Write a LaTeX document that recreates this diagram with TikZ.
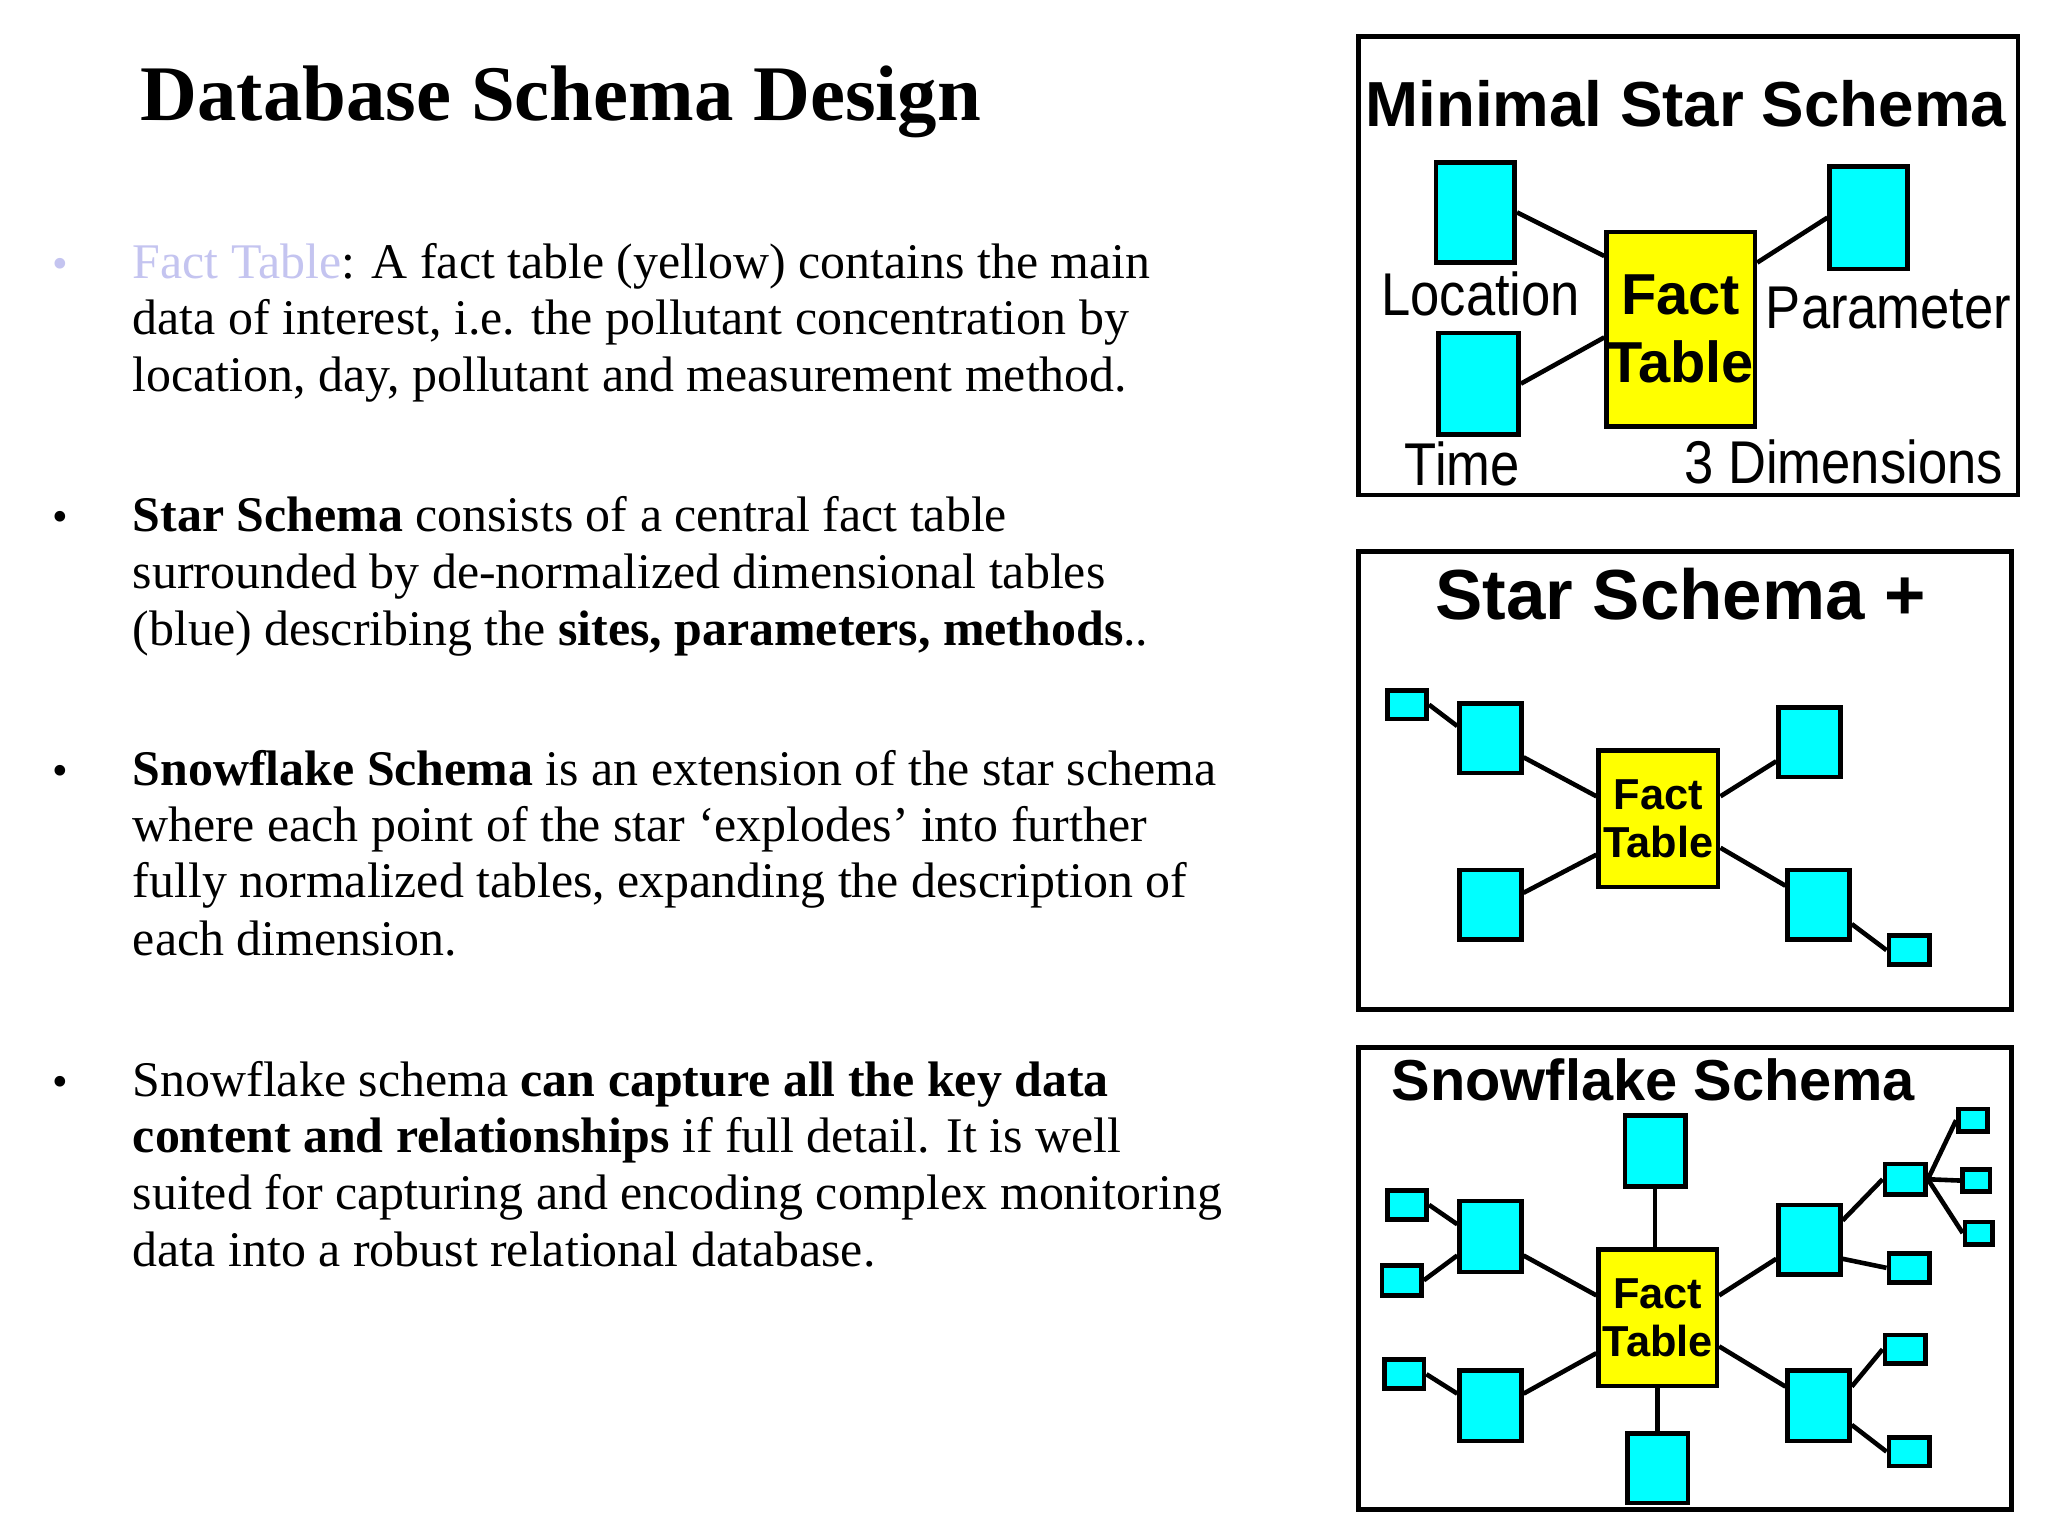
\documentclass[tikz,border=0pt]{standalone}
\usepackage{fontspec}
\setmainfont{Liberation Serif}
\newfontfamily\dia{Liberation Sans}
\definecolor{cy}{HTML}{00FFFF}
\definecolor{yl}{HTML}{FFFF00}
\definecolor{lav}{HTML}{C4C4F0}
\begin{document}
\begin{tikzpicture}[x=1pt,y=-1pt,
  body/.style={anchor=base west,inner sep=0,font=\fontsize{38}{44}\selectfont},
  bul/.style={anchor=base west,inner sep=0,font=\fontsize{34}{40}\selectfont},
  dim/.style={draw=black,line width=3.5pt,fill=cy,inner sep=0,anchor=north west},
  fct/.style={draw=black,line width=3.5pt,fill=yl,inner sep=0,anchor=north west,align=center,font=\dia\bfseries},
  frame/.style={draw=black,line width=3.5pt},
  ln/.style={line width=3.5pt},
  dlab/.style={anchor=base west,inner sep=0,font=\dia\fontsize{46}{46}\selectfont,xscale=0.87},
  dtit/.style={anchor=base west,inner sep=0,font=\dia\bfseries\fontsize{46}{46}\selectfont}]
\useasboundingbox (0,0) rectangle (1560,1170);
\fill[white] (0,0) rectangle (1560,1170);
% title
\node[anchor=base west,inner sep=0,font=\bfseries\fontsize{60}{66}\selectfont] (title) at (107,92) {Database Schema Design};
% bullets
\node[bul,text=lav] (b1) at (40,212) {•};
\node[body] (p1a) at (101,212) {\textcolor{lav}{Fact Table}: A fact table (yellow) contains the main};
\node[body] (p1b) at (101,255) {data of interest, i.e. the pollutant concentration by};
\node[body] (p1c) at (101,298) {location, day, pollutant and measurement method.};
\node[bul] (b2) at (40,405) {•};
\node[body] (p2a) at (101,405) {\textbf{Star Schema} consists of a central fact table};
\node[body] (p2b) at (101,448) {surrounded by de-normalized dimensional tables};
\node[body] (p2c) at (101,492) {(blue) describing the \textbf{sites, parameters, methods}..};
\node[bul] (b3) at (40,598) {•};
\node[body] (p3a) at (101,598) {\textbf{Snowflake Schema} is an extension of the star schema};
\node[body] (p3b) at (101,641) {where each point of the star ‘explodes’ into further};
\node[body] (p3c) at (101,684) {fully normalized tables, expanding the description of};
\node[body] (p3d) at (101,728) {each dimension.};
\node[bul] (b4) at (40,835) {•};
\node[body] (p4a) at (101,835) {Snowflake schema \textbf{can capture all the key data}};
\node[body] (p4b) at (101,878) {\textbf{content and relationships} if full detail. It is well};
\node[body] (p4c) at (101,921) {suited for capturing and encoding complex monitoring};
\node[body] (p4d) at (101,965) {data into a robust relational database.};
% ---- box 1
\draw[frame] (1035,28) rectangle (1537,377);
\node[dtit,font=\dia\bfseries\fontsize{48.5}{48}\selectfont] (t1) at (1040,96) {Minimal Star Schema};
\node[dim,minimum width=60,minimum height=76] (loc) at (1092,122) {};
\node[dim,minimum width=61,minimum height=77] (tim) at (1094,252) {};
\node[dim,minimum width=59,minimum height=78] (par) at (1392,125) {};
\node[fct,minimum width=113,minimum height=148,font=\dia\bfseries\fontsize{44}{52}\selectfont] (f1) at (1222,175) {Fact\\Table};
\draw[ln] (loc.east) -- (f1.north west |- 0,195);
\draw[ln] (tim.east) -- (f1.north west |- 0,257);
\draw[ln] (par.west) -- (f1.north east |- 0,200);
\node[dlab] (l1) at (1052,240) {Location};
\node[dlab] (l2) at (1345,250) {Parameter};
\node[dlab] (l3) at (1070,370) {Time};
\node[dlab] (l4) at (1283,368) {3 Dimensions};
% ---- box 2
\draw[frame] (1035,420) rectangle (1532,769);
\node[dtit,font=\dia\bfseries\fontsize{54}{54}\selectfont] (t2) at (1093,472) {Star Schema +};
\node[dim,minimum width=30,minimum height=22] (s2a) at (1055,524) {};
\node[dim,minimum width=47,minimum height=53] (a2) at (1110,534) {};
\node[dim,minimum width=47,minimum height=53] (bb2) at (1353,537) {};
\node[dim,minimum width=47,minimum height=53] (c2) at (1110,661) {};
\node[dim,minimum width=47,minimum height=53] (d2) at (1360,661) {};
\node[dim,minimum width=31,minimum height=22] (s2e) at (1437,711) {};
\node[fct,minimum width=91,minimum height=104,font=\dia\bfseries\fontsize{33}{36}\selectfont] (f2) at (1216,570) {Fact\\Table};
\draw[ln] (s2a.east) -- (a2.160);
\draw[ln] (a2.-30) -- (f2.160);
\draw[ln] (bb2.-150) -- (f2.20);
\draw[ln] (c2.20) -- (f2.-150);
\draw[ln] (d2.150) -- (f2.-25);
\draw[ln] (d2.-30) -- (s2e.west);
% ---- box 3
\draw[frame] (1035,798) rectangle (1532,1150);
\node[dtit,font=\dia\bfseries\fontsize{44}{44}\selectfont] (t3) at (1060,838) {Snowflake Schema};
\node[fct,minimum width=90,minimum height=104,font=\dia\bfseries\fontsize{33}{36}\selectfont] (f3) at (1216,950) {Fact\\Table};
\node[dim,minimum width=46,minimum height=54] (top3) at (1236,848) {};
\node[dim,minimum width=46,minimum height=53] (bot3) at (1238,1090) {};
\node[dim,minimum width=47,minimum height=54] (lu) at (1110,913) {};
\node[dim,minimum width=30,minimum height=22] (lu1) at (1055,905) {};
\node[dim,minimum width=30,minimum height=23] (lu2) at (1051,962) {};
\node[dim,minimum width=47,minimum height=54] (ll) at (1110,1042) {};
\node[dim,minimum width=30,minimum height=22] (ll1) at (1053,1034) {};
\node[dim,minimum width=47,minimum height=53] (ru) at (1353,916) {};
\node[dim,minimum width=31,minimum height=23] (ru1) at (1434,885) {};
\node[dim,minimum width=22,minimum height=17] (ru1a) at (1490,843) {};
\node[dim,minimum width=21,minimum height=17] (ru1b) at (1493,889) {};
\node[dim,minimum width=21,minimum height=17] (ru1c) at (1495,929) {};
\node[dim,minimum width=31,minimum height=22] (ru2) at (1437,953) {};
\node[dim,minimum width=47,minimum height=54] (rl) at (1360,1042) {};
\node[dim,minimum width=31,minimum height=22] (rl1) at (1434,1015) {};
\node[dim,minimum width=31,minimum height=22] (rl2) at (1437,1093) {};
\draw[ln] (top3.south) -- (f3.north -| top3.south);
\draw[ln] (bot3.north) -- (f3.south -| bot3.north);
\draw[ln] (lu.-30) -- (f3.160);
\draw[ln] (ll.20) -- (f3.-150);
\draw[ln] (ru.210) -- (f3.20);
\draw[ln] (rl.150) -- (f3.-25);
\draw[ln] (lu1.east) -- (lu.160);
\draw[ln] (lu2.east) -- (lu.210);
\draw[ln] (ll1.east) -- (ll.160);
\draw[ln] (ru.30) -- (ru1.west);
\draw[ln] (ru.-30) -- (ru2.west);
\draw[ln] (ru1.east) -- (ru1a.west);
\draw[ln] (ru1.east) -- (ru1b.west);
\draw[ln] (ru1.east) -- (ru1c.west);
\draw[ln] (rl.30) -- (rl1.west);
\draw[ln] (rl.-30) -- (rl2.west);
\end{tikzpicture}
\end{document}
